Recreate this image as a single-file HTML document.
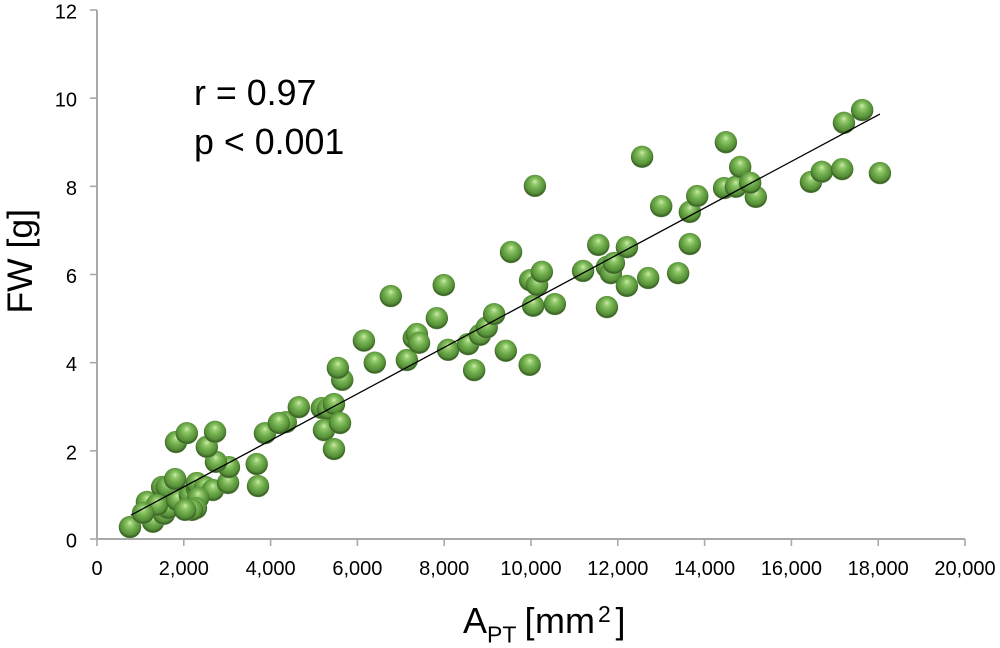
<!DOCTYPE html>
<html>
<head>
<meta charset="utf-8">
<style>
html,body{margin:0;padding:0;background:#fff;}
svg{display:block;font-family:"Liberation Sans",sans-serif;}
</style>
</head>
<body>
<svg id="chart" xmlns="http://www.w3.org/2000/svg" width="1000" height="648" viewBox="0 0 1000 648">
<defs>
<radialGradient id="sphere" cx="0.5" cy="0.44" r="0.57" fx="0.5" fy="0.3">
<stop offset="0" stop-color="#cfeeaa"/>
<stop offset="0.22" stop-color="#94ca6e"/>
<stop offset="0.5" stop-color="#6dab4a"/>
<stop offset="0.76" stop-color="#578f39"/>
<stop offset="0.92" stop-color="#36601f"/>
<stop offset="1" stop-color="#8fa982"/>
</radialGradient>
</defs>
<g id="axes"></g>
<g id="points"></g>
<g id="trend"></g>
<text transform="translate(32,313.5) rotate(-90)" font-size="35.5" fill="#000">FW [g]</text>
<text y="633" font-size="36" fill="#000"><tspan x="463">A</tspan><tspan x="487" font-size="23" dy="9.5">PT</tspan><tspan x="524.5" dy="-9.5">[</tspan><tspan x="535">mm</tspan><tspan x="598" font-size="23" dy="-11">2</tspan><tspan x="615.5" dy="11">]</tspan></text>
<text x="194" y="105" font-size="35.8" fill="#000">r = 0.97</text>
<text x="194" y="154" font-size="35.8" fill="#000">p &lt; 0.001</text>
</svg>
<script>
const xTicks = [0, 2000, 4000, 6000, 8000, 10000, 12000, 14000, 16000, 18000, 20000];
const yTicks = [0, 2, 4, 6, 8, 10, 12];
const apt = [760,1290,1544,1150,1500,1610,1640,1380,1060,1850,2140,2300,2300,2490,2670,3020,3040,2740,2330,2280,2190,2030,1800,1820,2070,2530,2720,3680,3710,3870,4350,4190,4650,5180,5320,5230,5460,5600,5460,5650,5550,6150,6400,6770,7140,7300,7370,7420,7830,7990,8090,8550,8690,8825,8980,9150,9420,9970,10050,10550,9980,10140,10250,9540,10090,11200,11550,11750,11840,11910,12210,12210,11750,12700,13390,12560,13000,13660,13830,13660,14490,15180,14450,14720,14820,15050,16450,16700,17170,17210,17630,18040];
const fw = [0.27,0.39,0.57,0.84,1.18,1.18,0.70,0.77,0.59,0.88,1.0,1.16,1.27,1.18,1.11,1.27,1.63,1.75,0.93,0.70,0.66,0.66,1.36,2.2,2.4,2.09,2.43,1.70,1.2,2.4,2.65,2.63,2.99,2.97,2.95,2.47,3.06,2.63,2.04,3.61,3.88,4.5,4.0,5.51,4.06,4.56,4.65,4.45,5.01,5.76,4.29,4.42,3.83,4.63,4.8,5.1,4.27,3.95,5.29,5.33,5.87,5.76,6.06,6.51,8.01,6.08,6.67,6.17,6.03,6.26,6.62,5.74,5.26,5.92,6.03,8.67,7.55,7.42,7.78,6.69,9.0,7.76,7.96,7.99,8.44,8.08,8.1,8.33,8.39,9.44,9.73,8.3];
const trendX = [780, 18040];
const trendY = [0.54, 9.64];

const NS = 'http://www.w3.org/2000/svg';
const sx = v => 97 + v * (965 - 97) / 20000;
const sy = v => 539 - v * (539 - 10) / 12;
function mk(tag, attrs, parent) {
  const el = document.createElementNS(NS, tag);
  for (const k in attrs) el.setAttribute(k, attrs[k]);
  parent.appendChild(el);
  return el;
}
const axisColor = '#a9a9a9';
const axes = document.getElementById('axes');

const xAxis = mk('line', {x1: sx(0), x2: sx(20000), y1: sy(0), y2: sy(0), stroke: axisColor, 'stroke-width': 2}, axes);


const yAxis = mk('line', {x1: sx(0), x2: sx(0), y1: sy(0), y2: sy(12), stroke: axisColor, 'stroke-width': 2}, axes);



xTicks.forEach(t => {
  const tick = mk('line', {x1: sx(t), x2: sx(t), y1: sy(0), y2: sy(0) + 7, stroke: axisColor, 'stroke-width': 1.6}, axes);
  
  
  const label = mk('text', {x: sx(t), y: 575, 'text-anchor': 'middle', 'font-size': 20, fill: '#000'}, axes);
  
  
  label.textContent = t.toLocaleString('en-US');
});
yTicks.forEach(t => {
  const tick = mk('line', {x1: sx(0) - 7, x2: sx(0), y1: sy(t), y2: sy(t), stroke: axisColor, 'stroke-width': 1.6}, axes);
  
  
  const label = mk('text', {x: 77, y: sy(t) + 8.5, 'text-anchor': 'end', 'font-size': 20, fill: '#000'}, axes);
  
  
  label.textContent = String(t);
});

const points = document.getElementById('points');
apt.forEach((v, i) => {
  const c = mk('circle', {cx: sx(v), cy: sy(fw[i]), r: 11.2, fill: 'url(#sphere)'}, points);
  
  
});

const trendGroup = document.getElementById('trend');
const trendLine = mk('line', {x1: sx(trendX[0]), y1: sy(trendY[0]), x2: sx(trendX[1]), y2: sy(trendY[1]), stroke: '#000', 'stroke-width': 1.3}, trendGroup);


</script>
</body>
</html>
